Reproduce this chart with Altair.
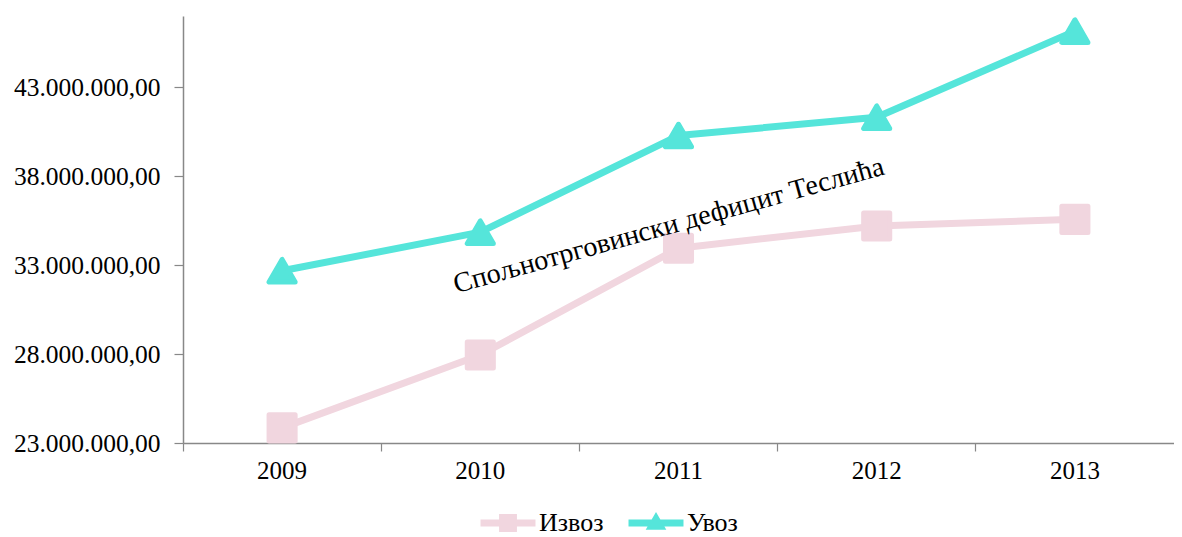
import altair as alt
import pandas as pd

# ---- data ----
years = ["2009", "2010", "2011", "2012", "2013"]
izvoz = [23_850_000, 27_950_000, 33_950_000, 35_200_000, 35_570_000]
uvoz = [32_680_000, 34_850_000, 40_280_000, 41_310_000, 46_150_000]
series_names = ["Извоз", "Увоз"]
series_colors = ["#F1D6DF", "#55E5DA"]
series_shapes = ["square", "triangle-up"]
y_tick_values = [23_000_000, 28_000_000, 33_000_000, 38_000_000, 43_000_000]
note_text = ["Спољнотрговински дефицит Теслића"]
note_year = ["2011"]
note_value = [35_350_000]

FONT = "Liberation Serif"

df = pd.DataFrame({
    "year": years * 2,
    "value": izvoz + uvoz,
    "series": [series_names[0]] * len(years) + [series_names[1]] * len(years),
})
note_df = pd.DataFrame({"year": note_year, "value": note_value, "text": note_text})

x_enc = alt.X(
    "year:N",
    scale=alt.Scale(type="band", paddingInner=0, paddingOuter=0),
    axis=alt.Axis(
        title=None, labelAngle=0, bandPosition=0, grid=False,
        domainColor="#888888", domainWidth=1.5, tickColor="#888888", tickWidth=1.2,
        tickSize=8, labelFontSize=25, labelFont=FONT, labelColor="#000000", labelPadding=7,
    ),
)
y_enc = alt.Y(
    "value:Q",
    scale=alt.Scale(domain=[23_000_000, 47_000_000], nice=False, zero=False),
    axis=alt.Axis(
        title=None, values=y_tick_values, grid=False,
        labelExpr="replace(format(datum.value, ',d'), /,/g, '.') + ',00'",
        domainColor="#888888", domainWidth=1.5, tickColor="#888888", tickWidth=1.2,
        tickSize=9, labelFontSize=25.5, labelFont=FONT, labelColor="#000000", labelPadding=14,
    ),
)

base = alt.Chart(df)

# legend: symbols drawn as a line segment with the series marker
legend_paths = [
    "M-2,-0.25H2V0.25H-2Z M-0.65,-0.65H0.65V0.65H-0.65Z",
    "M-2,-0.25H2V0.25H-2Z M0,-0.8L0.75,0.5H-0.75Z",
]
legend_props = dict(
    title=None, orient="none", direction="horizontal", legendX=311, legendY=493,
    symbolSize=756, symbolStrokeWidth=0, labelFont=FONT, labelFontSize=26,
    labelColor="#000000", columnPadding=24, labelOffset=17, padding=0,
)
legend_layer = base.transform_filter("false").mark_point(filled=True, opacity=1).encode(
    x=x_enc, y=y_enc,
    color=alt.Color("series:N", scale=alt.Scale(domain=series_names, range=series_colors),
                    legend=alt.Legend(**legend_props)),
    shape=alt.Shape("series:N", scale=alt.Scale(domain=series_names, range=legend_paths),
                    legend=alt.Legend(**legend_props)),
)

layers = [legend_layer]
for name, col in zip(series_names, series_colors):
    sub = base.transform_filter(alt.datum.series == name)
    layers.append(
        sub.mark_line(strokeWidth=7, strokeCap="round", strokeJoin="round", color=col)
        .encode(x=x_enc, y=y_enc)
    )
for name, col, shp in zip(series_names, series_colors, series_shapes):
    sub = base.transform_filter(alt.datum.series == name)
    layers.append(
        sub.mark_point(shape=shp, filled=True, size=680, opacity=1, color=col,
                       stroke=col, strokeWidth=5, strokeJoin="round")
        .encode(x=x_enc, y=y_enc)
    )

note = alt.Chart(note_df).mark_text(
    angle=344.5, fontSize=28, font=FONT, color="#000000", dx=-10,
    align="center", baseline="middle",
).encode(x=x_enc, y=y_enc, text="text:N")
layers.append(note)

chart = alt.layer(*layers).properties(
    width=991, height=427,
    padding={"left": 5, "top": 8, "right": 0, "bottom": 0},
    background="#ffffff",
).configure_view(stroke=None)

chart.save("out.html", embed_options={"renderer": "svg", "actions": False})
